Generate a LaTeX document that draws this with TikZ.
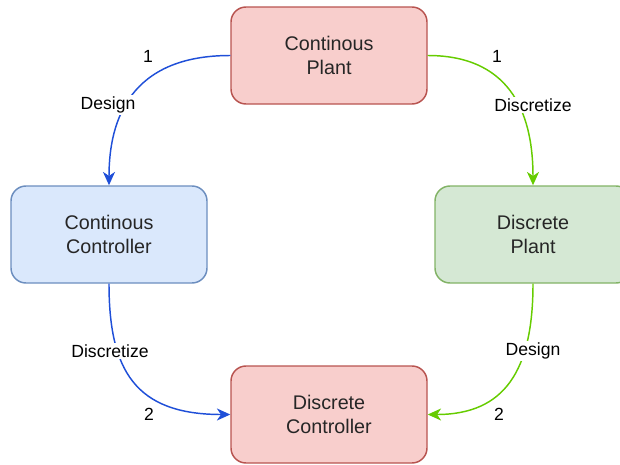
\documentclass[tikz,border=0pt]{standalone}
\usepackage{fontspec}
\setmainfont{Liberation Sans}
\usetikzlibrary{arrows.meta}
\definecolor{redfill}{HTML}{F8CECC}
\definecolor{redline}{HTML}{B85450}
\definecolor{bluefill}{HTML}{DAE8FC}
\definecolor{blueline}{HTML}{6C8EBF}
\definecolor{greenfill}{HTML}{D5E8D4}
\definecolor{greenline}{HTML}{82B366}
\definecolor{bluearrow}{HTML}{1F4FD8}
\definecolor{greenarrow}{HTML}{66CC00}
\definecolor{boxtext}{HTML}{262626}
\tikzset{
  box/.style={draw, line width=1.1pt, rounded corners=11.25pt, minimum width=147pt, minimum height=72.75pt,
    align=center, text=boxtext, font=\fontsize{14.8}{18}\selectfont, inner sep=0pt},
  redbox/.style={box, fill=redfill, draw=redline},
  bluebox/.style={box, fill=bluefill, draw=blueline},
  greenbox/.style={box, fill=greenfill, draw=greenline},
  conn/.style={line width=1.1pt, -{Stealth[length=10pt,width=9pt,inset=3pt]}},
  lbl/.style={fill=white, inner sep=1pt, font=\fontsize{13.2}{16}\selectfont, text=black},
  num/.style={inner sep=0pt, font=\fontsize{13.2}{16}\selectfont, text=black}
}
\begin{document}
\begin{tikzpicture}[x=0.75pt, y=-0.75pt]
\useasboundingbox (0,0) rectangle (620,464);
\node[redbox] (cp) at (329,55.5) {Continous\\Plant};
\node[bluebox] (cc) at (109,234.5) {Continous\\Controller};
\node[greenbox] (dp) at (533,234.5) {Discrete\\Plant};
\node[redbox] (dc) at (329,414.5) {Discrete\\Controller};

\draw[conn, bluearrow] (cp.west) .. controls (130,55.5) and (109,120) .. (cc.north);
\draw[conn, greenarrow] (cp.east) .. controls (515,55.5) and (533,120) .. (dp.north);
\draw[conn, bluearrow] (cc.south) .. controls (109,370) and (135,414.5) .. (dc.west);
\draw[conn, greenarrow] (dp.south) .. controls (533,370) and (505,414.5) .. (dc.east);

\node[num] (n1) at (148,56) {1};
\node[lbl] (l1) at (108,105) {Design};
\node[num] (n2) at (497,56) {1};
\node[lbl] (l2) at (533,105) {Discretize};
\node[lbl] (l3) at (110,351) {Discretize};
\node[num] (n3) at (149,414) {2};
\node[lbl] (l4) at (533,351) {Design};
\node[num] (n4) at (499,414) {2};
\end{tikzpicture}
\end{document}
